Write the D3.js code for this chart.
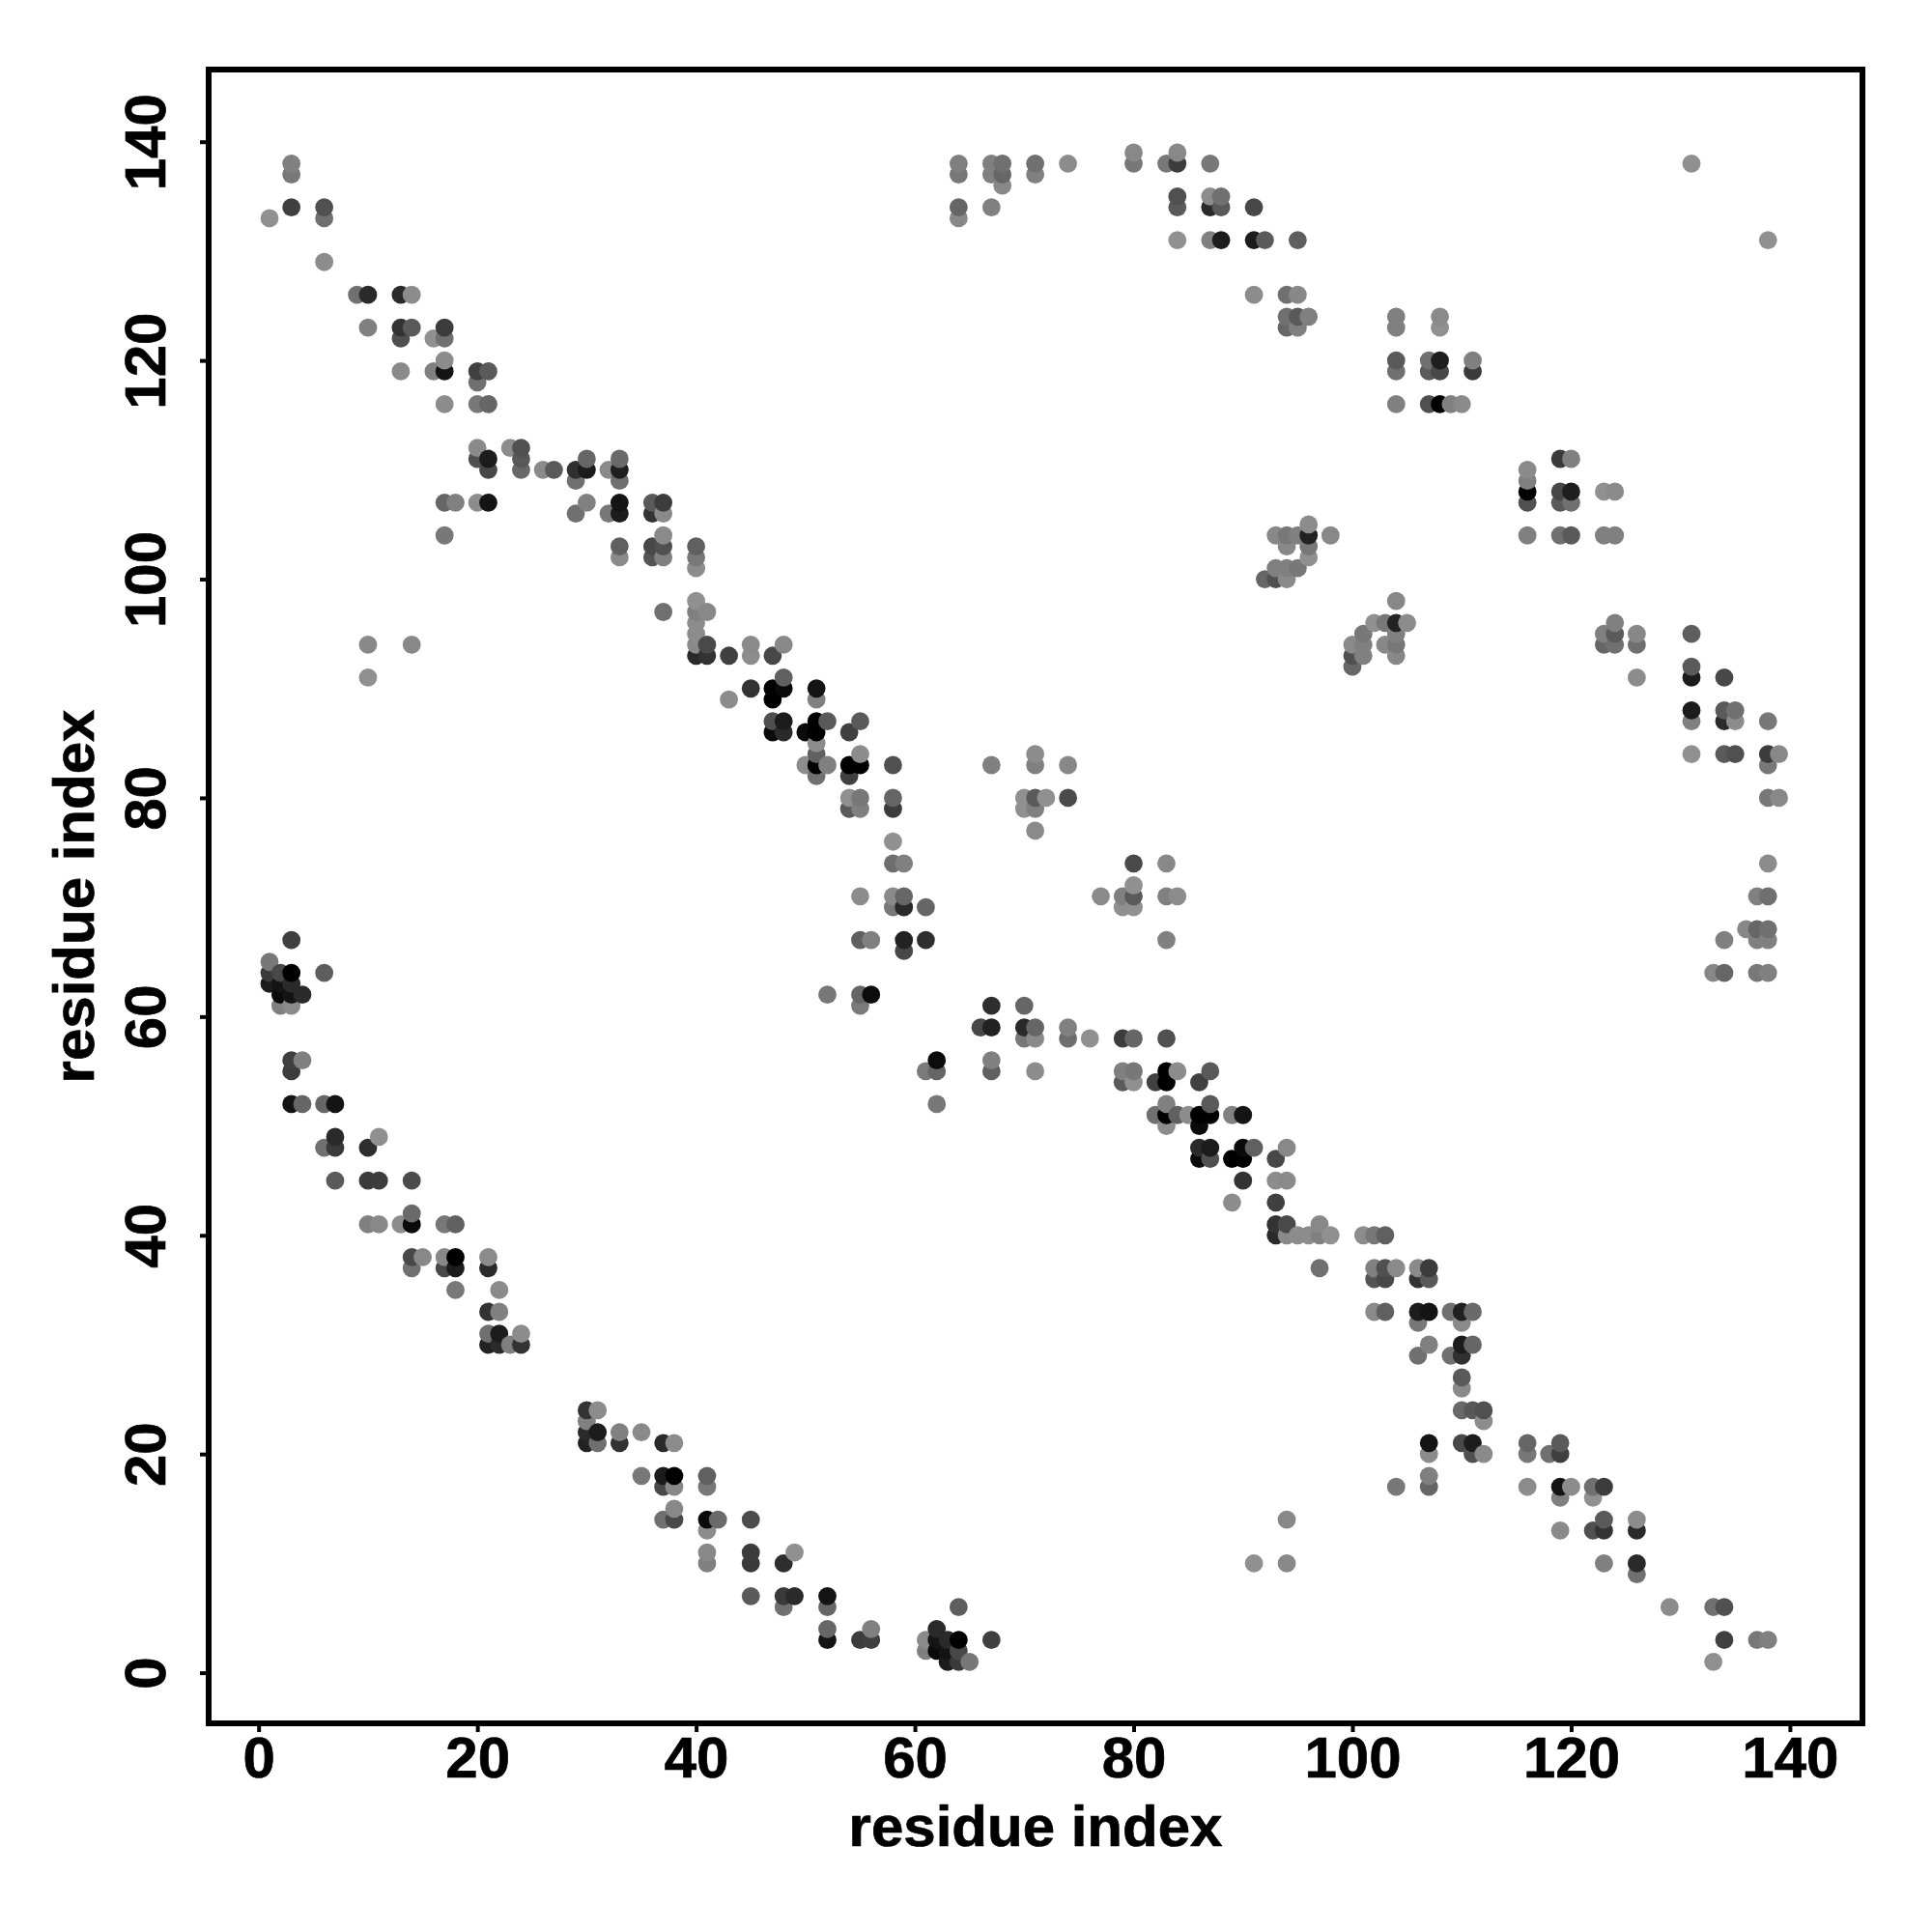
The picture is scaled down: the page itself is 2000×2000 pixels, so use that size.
<!DOCTYPE html>
<html>
<head>
<meta charset="utf-8">
<script src="https://cdn.jsdelivr.net/npm/d3@7"></script>
<style>
html,body{margin:0;padding:0;background:#fff}
svg{display:block}
text{font-family:"Liberation Sans",Arial,sans-serif;font-weight:bold;fill:#000;stroke:#000;stroke-width:0.7px}
</style>
</head>
<body>
<div id="chart"></div>
<script>
// Contacts i<j; the map is symmetric, the mirror (j,i) is drawn too.
const residueI = [
1,3,3,3,6,6,6,9,10,13,
14,10,13,14,13,16,17,17,17,17,
16,13,20,21,20,17,20,21,20,20,
21,21,23,24,24,24,26,27,29,30,
30,29,32,33,33,33,17,18,20,21,
29,30,32,33,33,36,37,36,37,17,
37,33,33,36,37,36,37,40,40,40,
40,40,41,37,40,40,40,41,40,41,
43,45,45,47,48,10,14,10,48,45,
47,48,51,43,47,51,47,48,47,48,
51,52,50,51,54,55,51,51,51,50,
52,51,55,54,55,54,58,54,55,54,
55,58,58,58,58,59,55,58,59,58,
59,61,55,56,59,61,59,52,55,56,
55,67,71,71,74,70,71,72,74,70,
71,71,64,64,64,64,67,67,67,68,
68,68,71,71,74,80,80,83,84,84,
87,84,84,87,87,88,88,91,84,87,
88,91,92,95,91,94,95,94,95,96,
94,95,104,104,108,108,104,104,107,107,
108,108,104,107,108,109,110,111,111,131,
93,94,95,96,96,94,96,96,98,93,
94,95,92,93,94,3,1,1,2,3,
6,1,2,3,2,3,4,2,3,3,
4,3,3,4,6,7,7,6,7,10,
11,7,10,11,14,10,11,13,14,14,
17,18,14,15,14,17,18,17,18,21,
21,18,22,21,22,21,22,24,21,22,
23,24
];
const residueJ = [
133,138,137,134,134,133,129,126,126,126,
126,123,123,123,122,122,122,123,120,119,
119,119,119,119,118,116,116,116,112,111,
111,110,112,112,111,110,110,110,110,110,
111,109,110,111,110,109,107,107,107,107,
106,107,106,107,106,107,107,106,106,104,
104,103,102,103,103,102,102,103,102,101,
98,97,97,97,96,95,94,94,93,93,
93,94,93,93,94,94,94,91,91,90,
90,90,90,89,89,89,87,87,86,86,
87,87,86,86,86,87,85,84,83,83,
83,82,84,83,83,82,83,80,80,79,
79,80,79,76,74,74,71,71,71,70,
70,70,67,67,67,67,66,62,62,62,
61,83,84,83,83,80,80,80,80,79,
79,77,138,137,134,133,138,137,134,138,
137,136,138,137,138,139,138,138,138,139,
138,135,134,135,134,135,134,134,131,131,
131,131,131,131,126,126,126,124,124,124,
123,123,124,123,124,123,120,119,120,119,
120,119,116,116,116,116,116,120,119,138,
104,104,104,104,105,103,103,102,104,101,
101,101,100,100,100,67,65,64,64,64,
64,63,63,63,62,62,62,61,61,56,
56,55,52,52,52,52,49,48,48,48,
49,45,45,45,45,41,41,41,42,41,
41,41,38,38,37,38,38,37,37,38,
37,35,35,33,33,31,31,31,30,30,
30,30
];
const greyLevel = [
144,128,120,64,80,112,140,112,42,42,
140,128,51,90,80,144,112,60,140,20,
128,138,64,90,112,140,120,102,138,80,
28,72,140,80,88,104,138,90,48,28,
102,112,138,106,32,112,102,128,140,20,
112,128,120,20,28,90,60,51,138,120,
138,96,138,72,80,85,128,96,120,140,
144,128,136,112,140,140,138,74,42,51,
64,138,140,72,136,136,136,144,96,51,
0,10,20,140,0,128,80,28,10,42,
0,90,10,0,64,90,140,96,0,140,
128,112,140,0,0,64,80,144,120,90,
128,102,60,144,110,128,140,138,102,120,
42,102,96,128,34,46,72,120,102,12,
122,128,140,128,136,144,90,144,74,144,
128,138,128,120,102,136,128,128,128,112,
102,136,112,128,140,136,120,120,60,136,
120,80,90,140,42,112,90,72,144,128,
28,28,90,94,140,112,136,112,90,128,
102,128,128,128,138,144,90,112,112,90,
30,72,128,80,0,128,138,128,58,144,
136,120,128,34,140,136,120,144,136,128,
128,120,102,80,138,64,120,58,72,0,
94,28,20,42,10,20,42,128,138,64,
128,60,20,102,102,20,42,112,58,46,
144,90,58,60,76,128,136,140,106,10,
120,96,72,136,112,136,0,72,28,140,
42,120,138,51,128,112,28,140,34,42,
128,51
];
const xTicks = [0,20,40,60,80,100,120,140];
const yTicks = [0,20,40,60,80,100,120,140];
const axisLabel = "residue index";

const W = 2000, H = 2000;
const frame = {left:216, right:1928, top:72, bottom:1784};

const x = d3.scaleLinear().domain([0,140]).range([267.7,1852.9]);
const y = d3.scaleLinear().domain([0,140]).range([1731.6,146.7]);

const points = [];
residueI.forEach((i,k)=>{
  points.push({x:i,y:residueJ[k],g:greyLevel[k]});
  points.push({x:residueJ[k],y:i,g:greyLevel[k]});
});
points.sort((a,b)=>d3.ascending(a.x,b.x)||d3.ascending(a.y,b.y));

const svg = d3.select("#chart").append("svg").attr("width",W).attr("height",H);
svg.append("rect").attr("width",W).attr("height",H).attr("fill","#fff");

svg.append("g").selectAll("circle").data(points).join("circle")
  .attr("cx",d=>x(d.x)).attr("cy",d=>y(d.y)).attr("r",9.4)
  .attr("fill",d=>d3.rgb(d.g,d.g,d.g).formatHex());

svg.append("rect")
  .attr("x",frame.left).attr("y",frame.top)
  .attr("width",frame.right-frame.left).attr("height",frame.bottom-frame.top)
  .attr("fill","none").attr("stroke","#000").attr("stroke-width",6);

const gx = svg.append("g").attr("transform",`translate(0,${frame.bottom})`)
  .call(d3.axisBottom(x).tickValues(xTicks).tickFormat(d3.format("d")).tickSize(9).tickSizeOuter(0));
gx.select(".domain").remove();
gx.selectAll(".tick line").attr("stroke","#000").attr("stroke-width",4);
gx.selectAll(".tick text").attr("y",55.5).attr("dy",0).attr("text-anchor","middle")
  .style("font-size","60px");

const gy = svg.append("g").attr("transform",`translate(${frame.left},0)`)
  .call(d3.axisLeft(y).tickValues(yTicks).tickFormat(d3.format("d")).tickSize(9).tickSizeOuter(0));
gy.select(".domain").remove();
gy.selectAll(".tick line").attr("stroke","#000").attr("stroke-width",4);
gy.selectAll(".tick text")
  .attr("x",0).attr("y",0).attr("dy",0)
  .attr("text-anchor","middle")
  .attr("transform","translate(-45.5,0) rotate(-90)")
  .style("font-size","60px");

svg.append("text").attr("x",(frame.left+frame.right)/2).attr("y",1911)
  .attr("text-anchor","middle").style("font-size","60px").text(axisLabel);
svg.append("text").attr("transform",`translate(97,${(frame.top+frame.bottom)/2}) rotate(-90)`)
  .attr("text-anchor","middle").style("font-size","60px").text(axisLabel);
</script>
</body>
</html>
